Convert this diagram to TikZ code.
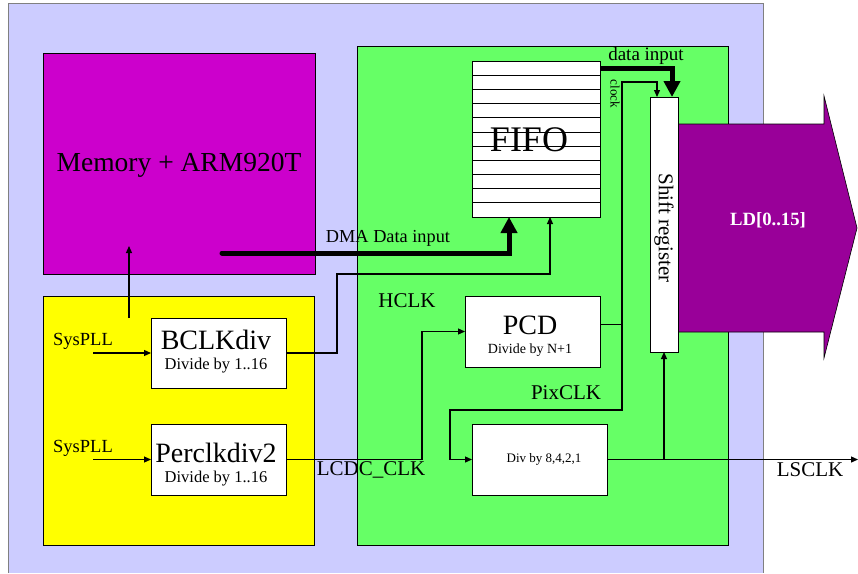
\documentclass[tikz,border=0pt]{standalone}
\usepackage{fontspec}
\setmainfont{Liberation Serif}
\usetikzlibrary{arrows.meta,calc}
\definecolor{lav}{HTML}{CCCCFF}
\definecolor{mag}{HTML}{CC00CC}
\definecolor{yel}{HTML}{FFFF00}
\definecolor{grn}{HTML}{66FF66}
\definecolor{pur}{HTML}{990099}
\newcommand{\fs}[1]{\fontsize{#1}{#1}\selectfont}
\begin{document}
\begin{tikzpicture}[x=1pt,y=-1pt,
  region/.style={draw=black,line width=0.8pt,anchor=north west,inner sep=0pt,outer sep=0pt},
  wbox/.style={draw=black,line width=0.8pt,fill=white,anchor=north west,inner sep=0pt,outer sep=0pt},
  lbl/.style={inner sep=0pt,outer sep=0pt},
  conn/.style={line width=1.2pt,-{Triangle[length=7pt,width=6pt]}},
  wire/.style={line width=1pt},
  fat/.style={line width=5pt,-{Triangle[length=16pt,width=16pt]}},
]
\useasboundingbox (0,0) rectangle (858,573);
\fill[lav] (8,3) rectangle (763,573);
\draw[gray,line width=1pt] (8,573) -- (8,3) -- (763,3) -- (763,573);

% regions
\node[region,fill=mag,minimum width=272pt,minimum height=221pt] (mem) at (43,53) {};
\node[region,fill=yel,minimum width=271pt,minimum height=249pt] (clk) at (43,296) {};
\node[region,fill=grn,minimum width=371pt,minimum height=499pt] (lcd) at (357,46) {};

% output bus arrow
\path[draw=black,line width=0.6pt,fill=pur] (664,124) -- (824,124) -- (824,96) -- (857,228) -- (824,358) -- (824,332) -- (664,332) -- cycle;
\node[lbl,text=white,font=\bfseries\fs{18.7}] (ld) at (768,220) {LD[0..15]};

% boxes
\node[wbox,minimum width=135pt,minimum height=70pt] (bclk) at (151,318) {};
\node[wbox,minimum width=135pt,minimum height=71pt] (perclk) at (151,424) {};
\node[wbox,minimum width=135pt,minimum height=71pt] (pcd) at (465,296) {};
\node[wbox,minimum width=135pt,minimum height=71pt] (div) at (472,424) {};
\node[wbox,minimum width=128pt,minimum height=156pt] (fifo) at (472,61) {};
\foreach \i in {1,...,10}{
  \draw[line width=0.8pt] ($(fifo.north west)+(0,\i*14.18)$) -- ($(fifo.north east)+(0,\i*14.18)$);
}
\node[wbox,minimum width=28pt,minimum height=255pt] (sr) at (650,97) {};

% texts
\node[lbl,font=\fs{27.5}] (memt) at (179,165) {Memory + ARM920T};
\node[lbl,font=\fs{36}] (fifot) at (529,140) {FIFO};
\node[lbl,font=\fs{28}] (pcdt) at (530,325) {PCD};
\node[lbl,font=\fs{14}] (pcds) at (530,350) {Divide by N+1};
\node[lbl,font=\fs{28}] (bclkt) at (216,340) {BCLKdiv};
\node[lbl,font=\fs{16.5}] (bclks) at (216,366) {Divide by 1..16};
\node[lbl,font=\fs{28}] (perclkt) at (216,453) {Perclkdiv2};
\node[lbl,font=\fs{16.5}] (perclks) at (216,479) {Divide by 1..16};
\node[lbl,font=\fs{13}] (divt) at (544,459) {Div by 8,4,2,1};
\node[lbl,font=\fs{18.5}] (sys1) at (83,341) {SysPLL};
\node[lbl,font=\fs{18.5}] (sys2) at (83,448) {SysPLL};
\node[lbl,font=\fs{21}] (hclk) at (407,301) {HCLK};
\node[lbl,font=\fs{21}] (lcdcclk) at (371,470) {LCDC\_CLK};
\node[lbl,font=\fs{21}] (pixclk) at (566,393) {PixCLK};
\node[lbl,font=\fs{21}] (lsclk) at (810,470) {LSCLK};
\node[lbl,font=\fs{18.3}] (dmat) at (388,238) {DMA Data input};
\node[lbl,font=\fs{19}] (datat) at (646,56) {data input};
\node[lbl,font=\fs{13},rotate=-90] (clockt) at (615,94) {clock};
\node[lbl,font=\fs{21},rotate=-90] (srt) at (664,228) {Shift register};

% connectors
\coordinate (s1) at (93,353);
\coordinate (s2) at (93,459.5);
\draw[conn] (s1) -- (bclk.west);
\draw[conn] (s2) -- (perclk.west);

\coordinate (m0) at (129,318);
\coordinate (m1) at (129,246);
\draw[conn] (m0) -- (m1);

\coordinate (d0) at (222,253);
\coordinate (dx) at (509,253);
\draw[fat,line cap=round] (d0) -- (dx) -- (dx |- fifo.south);

\coordinate (b1) at (337,274);
\coordinate (b2) at (550,274);
\draw[conn] (bclk.east) -| (b1) -- (b2) -- (b2 |- fifo.south);

\coordinate (p1) at (422,331.5);
\draw[conn] (perclk.east) -| (p1) -- (pcd.west);

\coordinate (q0) at (622,324);
\coordinate (c1) at (622,82);
\coordinate (c2) at (657,82);
\draw[wire] (pcd.east |- q0) -- (q0);
\draw[conn] (q0) -- (c1) -- (c2) -- (c2 |- sr.north);
\coordinate (x1) at (622,410);
\coordinate (x2) at (450,410);
\draw[conn] (q0) -- (x1) -- (x2) |- (div.west);

\coordinate (di) at (672,68);
\draw[fat] (fifo.north east |- di) -- (di) -- (di |- sr.north);

\coordinate (ls) at (858,459.5);
\draw[conn] (div.east) -- (ls);
\draw[conn] (div.east -| sr.south) -- (sr.south);
\end{tikzpicture}
\end{document}
